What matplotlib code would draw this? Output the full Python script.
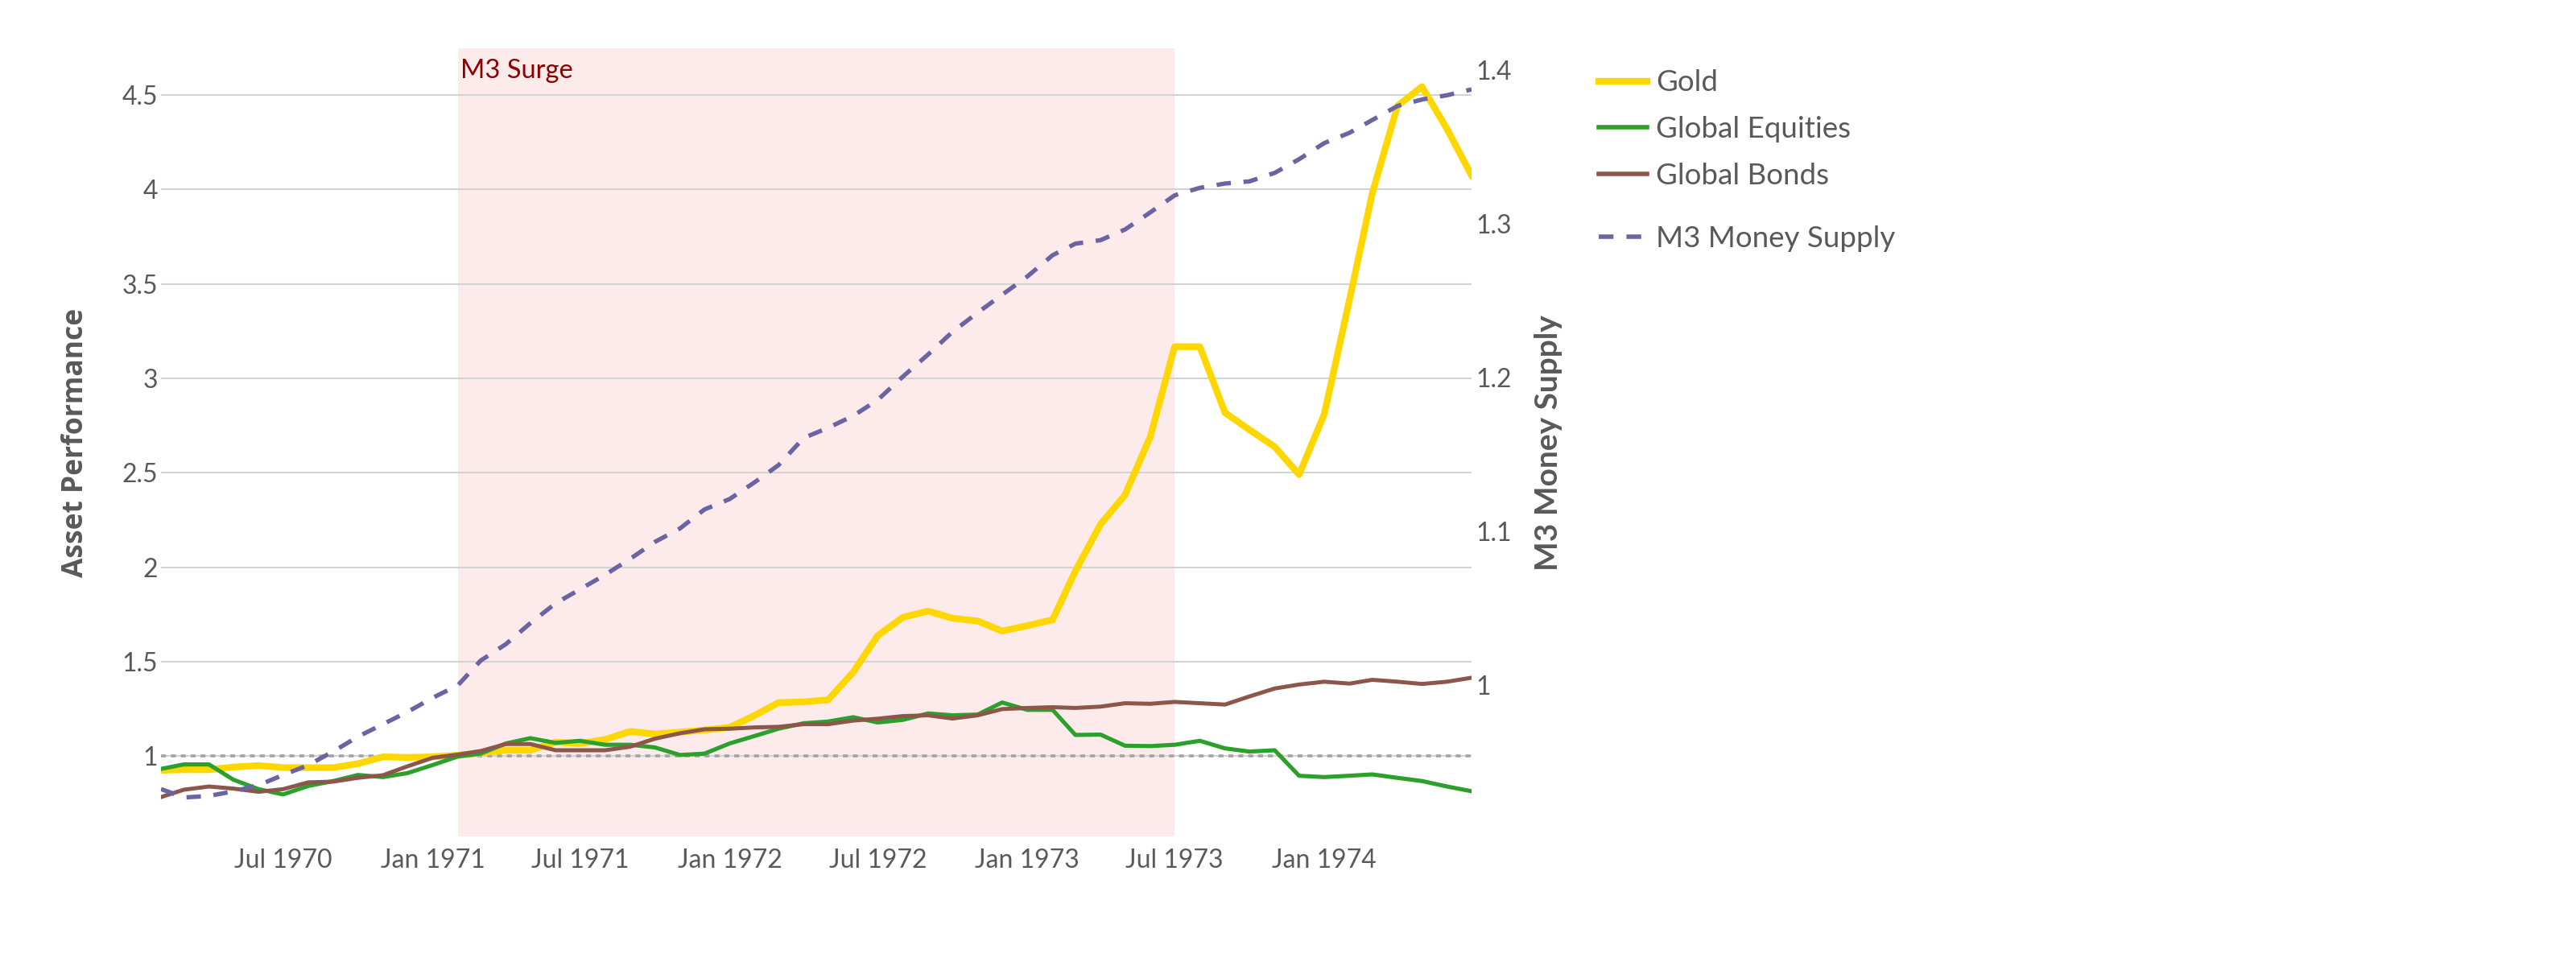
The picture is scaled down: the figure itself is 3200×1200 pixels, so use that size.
import matplotlib
matplotlib.use("Agg")
import matplotlib.pyplot as plt
import matplotlib.dates as mdates
import pandas as pd

# ---------------- data ----------------
dates = pd.date_range("1970-02-01", periods=54, freq="MS")

gold = [0.925, 0.928, 0.928, 0.942, 0.950, 0.939, 0.939, 0.939, 0.960, 0.996,
        0.993, 0.996, 1.005, 1.017, 1.031, 1.031, 1.074, 1.067, 1.088, 1.131,
        1.117, 1.127, 1.138, 1.152, 1.216, 1.283, 1.287, 1.298, 1.445, 1.638,
        1.735, 1.768, 1.730, 1.715, 1.662, 1.691, 1.722, 1.980, 2.228, 2.383,
        2.690, 3.168, 3.168, 2.818, 2.728, 2.638, 2.491, 2.811, 3.417, 3.981,
        4.443, 4.545, 4.320, 4.075]

equities = [0.932, 0.956, 0.956, 0.875, 0.825, 0.797, 0.842, 0.868, 0.900, 0.889,
            0.910, 0.953, 0.998, 1.013, 1.067, 1.095, 1.070, 1.081, 1.060, 1.060,
            1.046, 1.006, 1.013, 1.067, 1.107, 1.145, 1.174, 1.183, 1.206, 1.178,
            1.192, 1.226, 1.216, 1.220, 1.284, 1.245, 1.245, 1.112, 1.114, 1.055,
            1.053, 1.060, 1.081, 1.041, 1.024, 1.031, 0.896, 0.889, 0.896, 0.903,
            0.885, 0.868, 0.839, 0.814]

bonds = [0.783, 0.822, 0.839, 0.828, 0.811, 0.825, 0.861, 0.865, 0.885, 0.899,
         0.946, 0.991, 1.008, 1.027, 1.064, 1.064, 1.031, 1.031, 1.031, 1.050,
         1.092, 1.121, 1.142, 1.145, 1.152, 1.155, 1.169, 1.169, 1.188, 1.198,
         1.212, 1.216, 1.199, 1.216, 1.249, 1.255, 1.259, 1.255, 1.262, 1.280,
         1.277, 1.287, 1.280, 1.273, 1.316, 1.358, 1.379, 1.394, 1.384, 1.404,
         1.394, 1.382, 1.394, 1.415]

m3 = [0.9325, 0.927, 0.928, 0.931, 0.935, 0.9416, 0.948, 0.957, 0.9665, 0.9747,
      0.9826, 0.9918, 1.000, 1.016, 1.0267, 1.0403, 1.0532, 1.0623, 1.0718, 1.0822,
      1.0931, 1.1019, 1.1142, 1.121, 1.132, 1.143, 1.1607, 1.1673, 1.1751, 1.1854,
      1.2006, 1.215, 1.2297, 1.2422, 1.2538, 1.2657, 1.2795, 1.287, 1.2893, 1.2962,
      1.3073, 1.3184, 1.3233, 1.3261, 1.3275, 1.333, 1.3419, 1.3524, 1.3591, 1.3674,
      1.3765, 1.3807, 1.3835, 1.3873]

series_names = ["Gold", "Global Equities", "Global Bonds"]
m3_name = "M3 Money Supply"
shade_start = pd.Timestamp("1971-02-01")
shade_end = pd.Timestamp("1973-07-01")
shade_label = "M3 Surge"
x_ticks = pd.to_datetime(["1970-07-01", "1971-01-01", "1971-07-01", "1972-01-01",
                          "1972-07-01", "1973-01-01", "1973-07-01", "1974-01-01"])
left_ticks = [1, 1.5, 2, 2.5, 3, 3.5, 4, 4.5]
right_ticks = [1, 1.1, 1.2, 1.3, 1.4]

# ---------------- style ----------------
TXT = "#595959"
FONT = "Lato"
C_GOLD, C_EQ, C_BD, C_M3 = "#FFD700", "#2ca02c", "#8c564b", "#6a64a2"

fig = plt.figure(figsize=(32, 12), dpi=100)
ax = fig.add_axes([0.0625, 0.134, 0.50875, 0.816])
ax2 = ax.twinx()

ax.axvspan(shade_start, shade_end, color="#fdebeb", lw=0, zorder=0)
ax.set_axisbelow(True)
ax.grid(axis="y", color="#d3d3d3", lw=1.5)
ax.grid(axis="x", visible=False)
ax.axhline(1, color="#a3a3a3", lw=2.6, ls=(0, (1.7, 1.7)), zorder=1.5)

l1, = ax.plot(dates, gold, color=C_GOLD, lw=6.0, zorder=2)
l2, = ax.plot(dates, equities, color=C_EQ, lw=3.7, zorder=3)
l3, = ax.plot(dates, bonds, color=C_BD, lw=3.6, zorder=4)
l4, = ax2.plot(dates, m3, color=C_M3, lw=3.9, ls=(0, (3.3, 2.9)), dash_capstyle="butt")

ax.set_xlim(dates[0], dates[-1])
ax.set_ylim(0.574, 4.748)
ax2.set_ylim(0.9016, 1.414)

ax.set_xticks(x_ticks)
ax.set_xticklabels([d.strftime("%b %Y") for d in x_ticks])
ax.set_yticks(left_ticks)
ax.set_yticklabels([f"{t:g}" for t in left_ticks])
ax2.set_yticks(right_ticks)
ax2.set_yticklabels([f"{t:g}" for t in right_ticks])

for a in (ax, ax2):
    for s in a.spines.values():
        s.set_visible(False)
ax.tick_params(axis="x", length=0, pad=11, labelsize=23, labelcolor=TXT)
ax.tick_params(axis="y", length=0, pad=3, labelsize=23, labelcolor=TXT)
ax2.tick_params(axis="y", length=0, pad=4, labelsize=23, labelcolor=TXT)
for lab in ax.get_xticklabels() + ax.get_yticklabels() + ax2.get_yticklabels():
    lab.set_fontfamily(FONT)

ax.set_ylabel("Asset Performance", fontsize=25.5, fontweight="bold", color=TXT,
              family="Open Sans", va="center")
ax.yaxis.set_label_coords(-0.0651, 0.4995)
ax2.set_ylabel("M3 Money Supply", fontsize=28, fontweight="bold", color=TXT,
               family=FONT, va="center", rotation=90)
ax2.yaxis.set_label_coords(1.0584, 0.4995)

ax.annotate(shade_label, xy=(shade_start, 1), xycoords=("data", "axes fraction"),
            xytext=(2.5, -9.5), textcoords="offset points", ha="left", va="top",
            fontsize=23.5, color="#8b0000", family=FONT)

leg1 = fig.legend([l1, l2, l3], series_names, loc="upper left",
                  bbox_to_anchor=(0.6206, 0.928), frameon=False, borderpad=0,
                  borderaxespad=0, handlelength=1.63, handletextpad=0.3,
                  labelspacing=0.67, prop={"family": FONT, "size": 26.5},
                  labelcolor=TXT)
leg1.legend_handles[0].set_linewidth(6)
leg1.legend_handles[1].set_linewidth(4)
leg1.legend_handles[2].set_linewidth(4)
leg2 = fig.legend([l4], [m3_name], loc="upper left",
                  bbox_to_anchor=(0.6206, 0.7664), frameon=False, borderpad=0,
                  borderaxespad=0, handlelength=1.63, handletextpad=0.3,
                  prop={"family": FONT, "size": 26.5}, labelcolor=TXT)
leg2.legend_handles[0].set_linewidth(4)

fig.savefig("out.png", dpi=100)
